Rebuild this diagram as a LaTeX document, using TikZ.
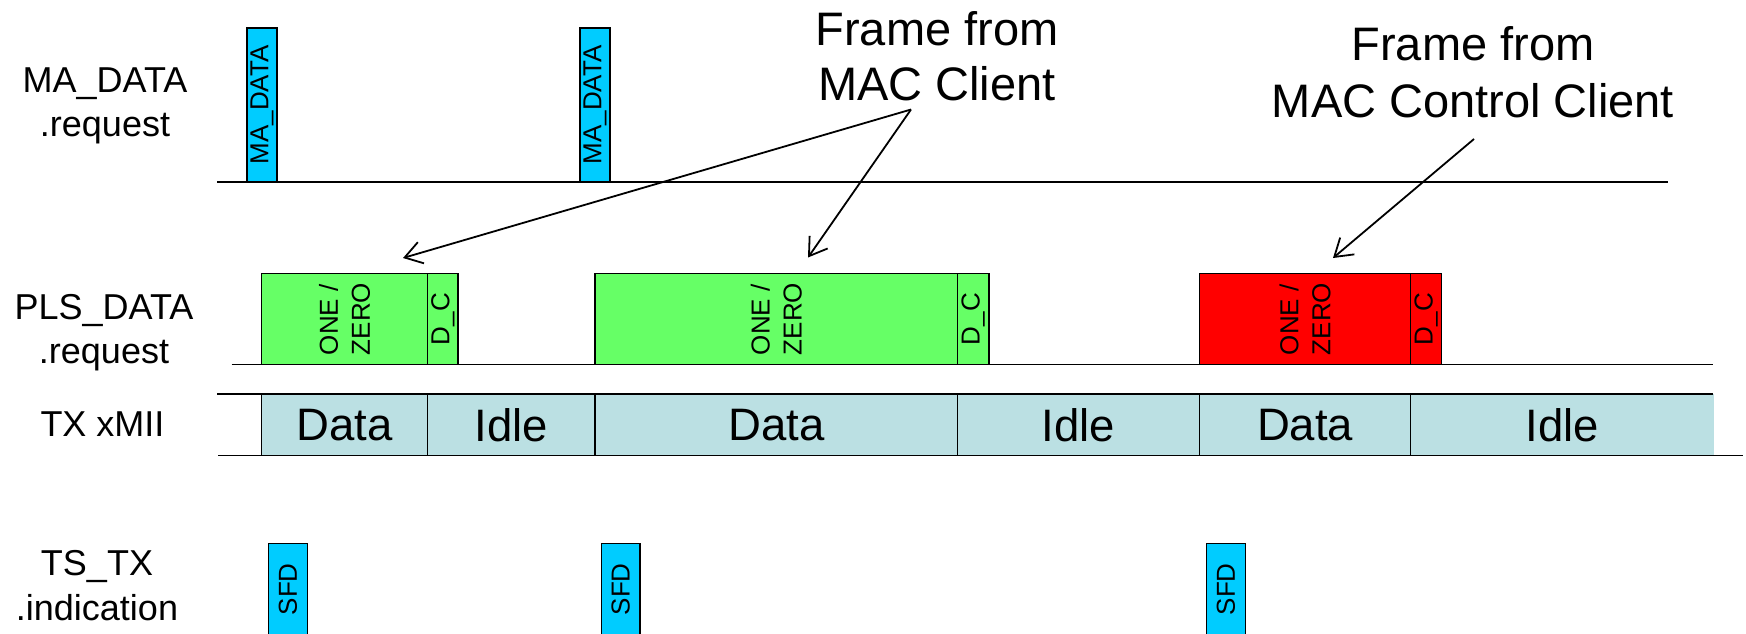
\documentclass[tikz,border=0pt]{standalone}
\usepackage{fontspec}
\setmainfont{Liberation Sans}
\usetikzlibrary{arrows.meta}
\definecolor{macyan}{HTML}{00CCFF}
\definecolor{plsgreen}{HTML}{66FF66}
\definecolor{plsred}{HTML}{FF0000}
\definecolor{txfill}{HTML}{BBE0E3}
\begin{document}
\begin{tikzpicture}[x=1pt,y=-1pt,
  sidelabel/.style={align=center, font=\fontsize{36}{44}\selectfont, inner sep=0pt, anchor=base},
  head/.style={align=center, font=\fontsize{47}{56}\selectfont, inner sep=0pt, anchor=base},
  cellbox/.style={draw=black, line width=1.5pt, inner sep=0pt, outer sep=0pt, anchor=north west},
  vtext/.style={rotate=90, font=\fontsize{26}{32}\selectfont, inner sep=0pt, align=left},
  celltext/.style={font=\fontsize{45.5}{50}\selectfont, inner sep=0pt},
  txcell/.style={fill=txfill, draw=none, inner sep=0pt, outer sep=0pt, anchor=north west, minimum height=61.4pt},
  axisline/.style={line width=2pt},
  thinaxis/.style={line width=1.4pt},
  divider/.style={line width=1.2pt},
  pointer/.style={line width=1.8pt, -{Straight Barb[length=17pt,width=22pt]}},
]
\clip (0,0) rectangle (1746,633);
\fill[white] (0,0) rectangle (1746,633);

% side labels (base anchor = baseline of last line)
\node[sidelabel] (lma) at (105,136.7) {MA\_DATA\\.request};
\node[sidelabel] (lpls) at (104,363) {PLS\_DATA\\.request};
\node[sidelabel] (ltx) at (102.5,436.7) {TX xMII};
\node[sidelabel, font=\fontsize{36}{45}\selectfont] (lts) at (97,620) {TS\_TX\\.indication};

% headings
\node[head, font=\fontsize{47}{55}\selectfont] (h1) at (937,100) {Frame from\\MAC Client};
\node[head, font=\fontsize{47}{57}\selectfont] (h2) at (1473,117) {Frame from\\MAC Control Client};

% MA_DATA.request row
\node[cellbox, fill=macyan, minimum width=30pt, minimum height=153.7pt] (ma1) at (247,28) {};
\node[vtext] (ma1t) at (ma1.center) {MA\_DATA};
\node[cellbox, fill=macyan, minimum width=30pt, minimum height=153.7pt] (ma2) at (580,28) {};
\node[vtext] (ma2t) at (ma2.center) {MA\_DATA};
\draw[axisline] (217,181.7) coordinate (maL) -- (1668,181.7) coordinate (maR);

% PLS_DATA.request row
\node[cellbox, fill=plsgreen, minimum width=166.1pt, minimum height=90.6pt] (g1) at (261.6,273.7) {};
\node[vtext] (g1t) at (g1.center) {ONE /\\ZERO};
\node[cellbox, fill=plsgreen, minimum width=30.3pt, minimum height=90.6pt] (g1dc) at (427.7,273.7) {};
\node[vtext] (g1dct) at (g1dc.center) {D\_C};
\node[cellbox, fill=plsgreen, minimum width=362.6pt, minimum height=90.6pt] (g2) at (595,273.7) {};
\node[vtext] (g2t) at (g2.center) {ONE /\\ZERO};
\node[cellbox, fill=plsgreen, minimum width=31.2pt, minimum height=90.6pt] (g2dc) at (957.6,273.7) {};
\node[vtext] (g2dct) at (g2dc.center) {D\_C};
\node[cellbox, fill=plsred, minimum width=211.3pt, minimum height=90.6pt] (r1) at (1199.4,273.7) {};
\node[vtext] (r1t) at (r1.center) {ONE /\\ZERO};
\node[cellbox, fill=plsred, minimum width=30.8pt, minimum height=90.6pt] (r1dc) at (1410.7,273.7) {};
\node[vtext] (r1dct) at (r1dc.center) {D\_C};
\draw[thinaxis] (231.7,364.3) coordinate (plsL) -- (1713,364.3) coordinate (plsR);

% TX xMII row
\node[txcell, minimum width=166.1pt] (d1) at (261.6,394.3) {};
\node[txcell, minimum width=167.3pt] (i1) at (427.7,394.3) {};
\node[txcell, minimum width=362.6pt] (d2) at (595,394.3) {};
\node[txcell, minimum width=241.8pt] (i2) at (957.6,394.3) {};
\node[txcell, minimum width=211.3pt] (d3) at (1199.4,394.3) {};
\node[txcell, minimum width=302.8pt] (i3) at (1410.7,394.3) {};
\node[celltext] (d1t) at (d1.center) {Data};
\node[celltext] (i1t) at (i1.center) {Idle};
\node[celltext] (d2t) at (d2.center) {Data};
\node[celltext] (i2t) at (i2.center) {Idle};
\node[celltext] (d3t) at (d3.center) {Data};
\node[celltext] (i3t) at (i3.center) {Idle};
\foreach \c in {d1,i1,d2,i2,d3,i3}{
  \draw[divider] (\c.north west) -- (\c.south west);
}
\draw[axisline] (217,394.3) coordinate (txTL) -- (1713,394.3) coordinate (txTR);
\draw[thinaxis] (218,455.7) coordinate (txBL) -- (1743,455.7) coordinate (txBR);

% TS_TX.indication row
\node[cellbox, fill=macyan, minimum width=38.6pt, minimum height=92pt] (s1) at (268.7,543.3) {};
\node[vtext] (s1t) at (s1.center) {SFD};
\node[cellbox, fill=macyan, minimum width=38.6pt, minimum height=92pt] (s2) at (601.3,543.3) {};
\node[vtext] (s2t) at (s2.center) {SFD};
\node[cellbox, fill=macyan, minimum width=38.6pt, minimum height=92pt] (s3) at (1206.7,543.3) {};
\node[vtext] (s3t) at (s3.center) {SFD};

% pointers
\coordinate (src1) at (911,109.5);
\coordinate (tip1) at (403,258);
\coordinate (tip2) at (808,257.5);
\coordinate (src2) at (1474,139);
\coordinate (tip3) at (1333,258);
\draw[pointer] (src1) -- (tip1);
\draw[pointer] (src1) -- (tip2);
\draw[pointer] (src2) -- (tip3);
\end{tikzpicture}
\end{document}
